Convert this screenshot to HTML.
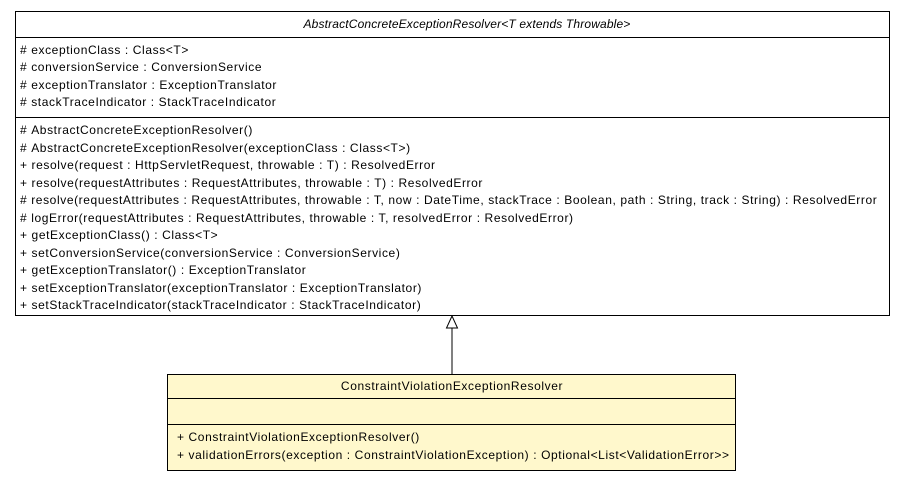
<!DOCTYPE html>
<html><head><meta charset="utf-8"><style>
html,body{margin:0;padding:0;background:#fff;}
svg text{font-family:"Liberation Sans",Arial,sans-serif;font-size:12px;letter-spacing:0.6px;fill:#000;}
</style></head><body>
<svg width="904" height="480" xmlns="http://www.w3.org/2000/svg">
<rect x="15.5" y="11.5" width="874" height="304" fill="#fff" stroke="#000"/>
<line x1="15" y1="37.5" x2="890" y2="37.5" stroke="#000"/>
<line x1="15" y1="117.5" x2="890" y2="117.5" stroke="#000"/>
<text x="467" y="28" text-anchor="middle" font-style="italic" style="letter-spacing:0.15px">AbstractConcreteExceptionResolver&lt;T extends Throwable&gt;</text>
<text x="20" y="54">#&#160;exceptionClass : Class&lt;T&gt;</text>
<text x="20" y="71">#&#160;conversionService : ConversionService</text>
<text x="20" y="89">#&#160;exceptionTranslator : ExceptionTranslator</text>
<text x="20" y="106">#&#160;stackTraceIndicator : StackTraceIndicator</text>
<text x="20" y="134">#&#160;AbstractConcreteExceptionResolver()</text>
<text x="20" y="152">#&#160;AbstractConcreteExceptionResolver(exceptionClass : Class&lt;T&gt;)</text>
<text x="20" y="169">+ resolve(request : HttpServletRequest, throwable : T) : ResolvedError</text>
<text x="20" y="187">+ resolve(requestAttributes : RequestAttributes, throwable : T) : ResolvedError</text>
<text x="20" y="204">#&#160;resolve(requestAttributes : RequestAttributes, throwable : T, now : DateTime, stackTrace : Boolean, path : String, track : String) : ResolvedError</text>
<text x="20" y="222">#&#160;logError(requestAttributes : RequestAttributes, throwable : T, resolvedError : ResolvedError)</text>
<text x="20" y="239">+ getExceptionClass() : Class&lt;T&gt;</text>
<text x="20" y="257">+ setConversionService(conversionService : ConversionService)</text>
<text x="20" y="274">+ getExceptionTranslator() : ExceptionTranslator</text>
<text x="20" y="292">+ setExceptionTranslator(exceptionTranslator : ExceptionTranslator)</text>
<text x="20" y="309">+ setStackTraceIndicator(stackTraceIndicator : StackTraceIndicator)</text>
<line x1="452" y1="327" x2="452" y2="374" stroke="#000"/>
<polygon points="452,316 446.5,328 457.5,328" fill="#fff" stroke="#000"/>
<rect x="167.5" y="374.5" width="568" height="96" fill="#fff8cc" stroke="#000"/>
<line x1="167" y1="398.5" x2="736" y2="398.5" stroke="#000"/>
<line x1="167" y1="424.5" x2="736" y2="424.5" stroke="#000"/>
<text x="452" y="390" text-anchor="middle">ConstraintViolationExceptionResolver</text>
<text x="177" y="441">+ ConstraintViolationExceptionResolver()</text>
<text x="177" y="459">+ validationErrors(exception : ConstraintViolationException) : Optional&lt;List&lt;ValidationError&gt;&gt;</text>
</svg>
</body></html>
